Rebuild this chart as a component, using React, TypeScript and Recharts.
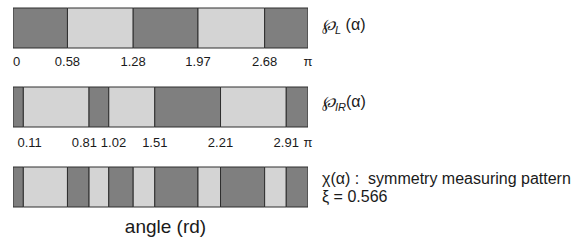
import { BarChart, Bar, XAxis, YAxis, Label } from 'recharts';

// Three angular patterns over [0, π]; the breakpoints are where the shading switches
const PI = Math.PI;

const L_BREAKS = [0.58, 1.28, 1.97, 2.68];
const L_TICKS = [0, 0.58, 1.28, 1.97, 2.68, PI];
const L_TICK_LABELS = ['0', '0.58', '1.28', '1.97', '2.68', 'π'];

const IR_BREAKS = [0.11, 0.81, 1.02, 1.51, 2.21, 2.91];
const IR_TICKS = [0.11, 0.81, 1.02, 1.51, 2.21, 2.91, PI];
const IR_TICK_LABELS = ['0.11', '0.81', '1.02', '1.51', '2.21', '2.91', 'π'];

const CHI_BREAKS = [0.11, 0.58, 0.81, 1.02, 1.28, 1.51, 1.97, 2.21, 2.68, 2.91];

const DARK = '#7f7f7f';
const LIGHT = '#d4d4d4';
const EDGE = '#2e2e2e';
const TEXT = '#1a1a1a';
const FONT = '"Liberation Sans", Arial, Helvetica, sans-serif';

const W = 584;
const LEFT = 13;
const PLOT_W = 295;
const BAR_H = 40;
const PAD = 4;

function toRow(name: string, breaks: number[]) {
  const edges = [0, ...breaks, PI];
  const row: any = { name };
  for (let i = 0; i < edges.length - 1; i++) row[`s${i}`] = edges[i + 1] - edges[i];
  return row;
}

// rough width of a 13px tick label
function labelWidth(s: string) {
  let w = 0;
  for (const c of s) w += c === '.' ? 3.6 : 7.2;
  return w;
}

// tick labels sitting too close to a neighbour get nudged apart a little
function makeXTick(ticks: number[], labels: string[], breaks: number[]) {
  const edges = [0, ...breaks, PI];
  const widthAt = (v: number) => {
    const i = ticks.findIndex((t) => Math.abs(t - v) < 1e-9);
    return i < 0 ? 0 : labelWidth(labels[i]);
  };
  return (props: any) => {
    const { x, y, payload } = props;
    const v = payload.value;
    const idx = ticks.findIndex((t) => Math.abs(t - v) < 1e-9);
    if (idx < 0) return null;
    const ei = edges.findIndex((t) => Math.abs(t - v) < 1e-9);
    const pxPerRad = PLOT_W / PI;
    const w = labelWidth(labels[idx]);
    let shift = 0;
    if (ei > 0 && v !== 0) {
      const prev = edges[ei - 1];
      const wp = widthAt(prev);
      const need = (w + wp) / 2 + PAD;
      const gap = (v - prev) * pxPerRad;
      if (gap < need) shift += wp === 0 ? need - gap : (need - gap) / 2;
    }
    if (ei >= 0 && ei < edges.length - 1) {
      const next = edges[ei + 1];
      const wn = widthAt(next);
      const need = (w + wn) / 2 + PAD;
      const gap = (next - v) * pxPerRad;
      if (gap < need) shift -= wn === 0 ? need - gap : (need - gap) / 2;
    }
    return (
      <text
        x={x + shift}
        y={y}
        dy="0.71em"
        textAnchor={v === 0 ? 'start' : 'middle'}
        fontSize={13}
        fontFamily={FONT}
        fill={TEXT}
      >
        {labels[idx]}
      </text>
    );
  };
}

function RowLabel(props: any) {
  const { x, y, payload } = props;
  const tx = x + 6;
  const common = { fontFamily: FONT, fill: TEXT, fontSize: 16 };
  if (payload.value === 'L') {
    return (
      <text x={tx} y={y + 2} {...common}>
        <tspan fontStyle="italic">℘</tspan>
        <tspan dy={4} fontSize={11} fontStyle="italic">L</tspan>
        <tspan dy={-4}>{'\u00a0(α)'}</tspan>
      </text>
    );
  }
  if (payload.value === 'IR') {
    return (
      <text x={tx} y={y} {...common}>
        <tspan fontStyle="italic">℘</tspan>
        <tspan dy={4} fontSize={11} fontStyle="italic">IR</tspan>
        <tspan dy={-4}>(α)</tspan>
      </text>
    );
  }
  return (
    <g>
      <text x={tx} y={y - 3} {...common}>
        {'χ(α) :\u00a0\u00a0symmetry measuring pattern'}
      </text>
      <text x={tx} y={y + 15} {...common}>
        ξ = 0.566
      </text>
    </g>
  );
}

function PatternRow({
  name,
  breaks,
  ticks,
  tickLabels,
  tickMargin,
  axisHeight,
  showAngle,
}: {
  name: string;
  breaks: number[];
  ticks?: number[];
  tickLabels?: string[];
  tickMargin?: number;
  axisHeight: number;
  showAngle?: boolean;
}) {
  const row = toRow(name, breaks);
  const segCount = breaks.length + 1;
  return (
    <BarChart
      width={W}
      height={8 + BAR_H + axisHeight}
      data={[row]}
      layout="vertical"
      margin={{ top: 8, left: LEFT, right: 0, bottom: 0 }}
      barCategoryGap={0}
    >
      <XAxis
        type="number"
        domain={[0, PI]}
        allowDataOverflow
        ticks={ticks || []}
        interval={0}
        tick={ticks ? makeXTick(ticks, tickLabels || [], breaks) : false}
        tickLine={false}
        axisLine={false}
        tickMargin={tickMargin}
        height={axisHeight}
      >
        {showAngle && (
          <Label
            content={(p: any) => (
              <text
                x={p.viewBox.x + p.viewBox.width / 2 + 5}
                y={p.viewBox.y + 26}
                textAnchor="middle"
                fontSize={19}
                fontFamily={FONT}
                fill={TEXT}
              >
                angle (rd)
              </text>
            )}
          />
        )}
      </XAxis>
      <YAxis
        type="category"
        dataKey="name"
        orientation="right"
        width={W - LEFT - PLOT_W}
        tick={<RowLabel />}
        tickLine={false}
        axisLine={false}
      />
      {Array.from({ length: segCount }, (_, i) => (
        <Bar
          key={i}
          dataKey={`s${i}`}
          stackId="p"
          fill={i % 2 === 0 ? DARK : LIGHT}
          stroke={EDGE}
          strokeWidth={1}
          isAnimationActive={false}
        />
      ))}
    </BarChart>
  );
}

export default function App() {
  return (
    <div
      style={{
        position: 'absolute',
        left: 0,
        top: 0,
        width: W,
        height: 242,
        background: '#fff',
        fontFamily: FONT,
      }}
    >
      <div style={{ position: 'absolute', left: 0, top: 0 }}>
        <PatternRow
          name="L"
          breaks={L_BREAKS}
          ticks={L_TICKS}
          tickLabels={L_TICK_LABELS}
          tickMargin={3}
          axisHeight={30}
        />
      </div>
      <div style={{ position: 'absolute', left: 0, top: 79 }}>
        <PatternRow
          name="IR"
          breaks={IR_BREAKS}
          ticks={IR_TICKS}
          tickLabels={IR_TICK_LABELS}
          tickMargin={5}
          axisHeight={30}
        />
      </div>
      <div style={{ position: 'absolute', left: 0, top: 159 }}>
        <PatternRow name="X" breaks={CHI_BREAKS} axisHeight={35} showAngle />
      </div>
    </div>
  );
}
